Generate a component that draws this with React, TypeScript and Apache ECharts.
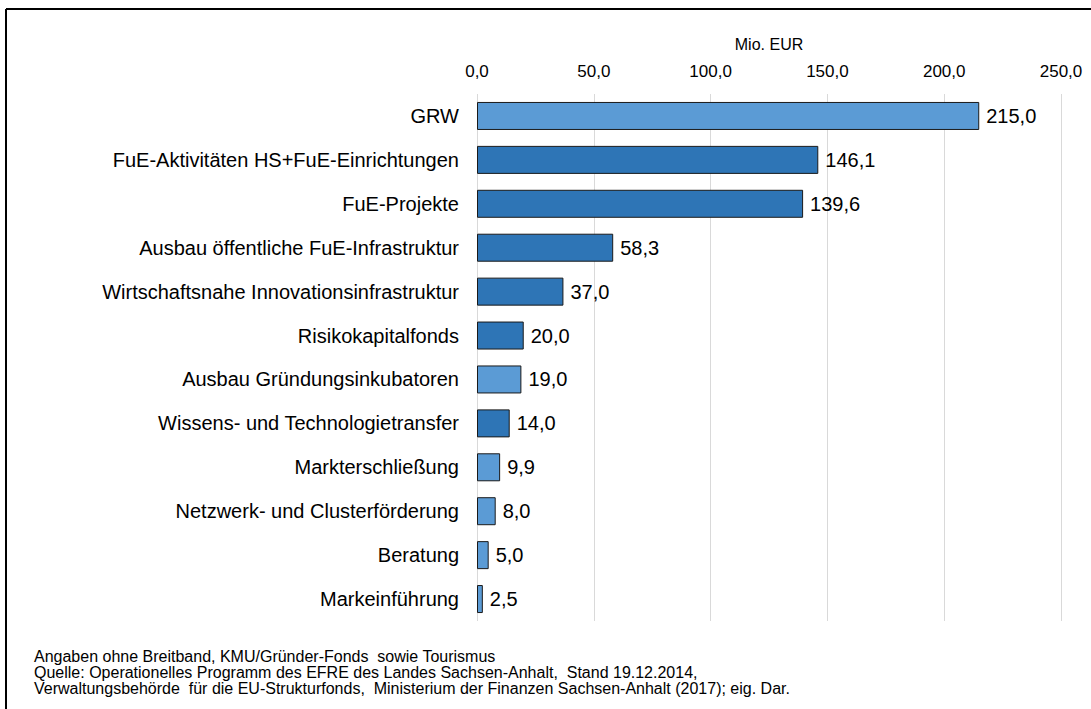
import React, { useEffect, useRef } from "react";
import * as echarts from "echarts";

const categories = [
  "GRW",
  "FuE-Aktivitäten HS+FuE-Einrichtungen",
  "FuE-Projekte",
  "Ausbau öffentliche FuE-Infrastruktur",
  "Wirtschaftsnahe Innovationsinfrastruktur",
  "Risikokapitalfonds",
  "Ausbau Gründungsinkubatoren",
  "Wissens- und Technologietransfer",
  "Markterschließung",
  "Netzwerk- und Clusterförderung",
  "Beratung",
  "Markeinführung",
];
const values = [215.0, 146.1, 139.6, 58.3, 37.0, 20.0, 19.0, 14.0, 9.9, 8.0, 5.0, 2.5];
// 0 = light blue, 1 = dark blue
const colorGroup = [0, 1, 1, 1, 1, 1, 0, 1, 0, 0, 0, 0];
const palette = ["#5B9BD5", "#2E75B6"];
const footnotes = [
  "Angaben ohne Breitband, KMU/Gründer-Fonds  sowie Tourismus",
  "Quelle: Operationelles Programm des EFRE des Landes Sachsen-Anhalt,  Stand 19.12.2014,",
  "Verwaltungsbehörde  für die EU-Strukturfonds,  Ministerium der Finanzen Sachsen-Anhalt (2017); eig. Dar.",
];

const fmt = (v: number) => v.toFixed(1).replace(".", ",");
const FONT = "Liberation Sans, Arial, sans-serif";

export default function App() {
  const ref = useRef<HTMLDivElement>(null);
  useEffect(() => {
    if (!ref.current) return;
    const chart = echarts.init(ref.current, null, { renderer: "svg" });
    chart.setOption({
      animation: false,
      backgroundColor: "#ffffff",
      textStyle: { fontFamily: FONT },
      grid: { left: 477, right: 30, top: 94, bottom: 88, containLabel: false },
      xAxis: {
        type: "value",
        position: "top",
        min: 0,
        max: 250,
        interval: 50,
        name: "Mio. EUR",
        nameLocation: "middle",
        nameGap: 42,
        nameTextStyle: { color: "#000", fontSize: 16, fontFamily: FONT },
        axisLine: { show: false },
        axisTick: { show: false },
        axisLabel: {
          color: "#000",
          fontSize: 17,
          fontFamily: FONT,
          margin: 14,
          formatter: (v: number) => fmt(v),
        },
        splitLine: { show: true, lineStyle: { color: "#d9d9d9", width: 1 } },
      },
      yAxis: {
        type: "category",
        inverse: true,
        data: categories,
        axisLine: { show: false },
        axisTick: { show: false },
        axisLabel: { color: "#000", fontSize: 20, fontFamily: FONT, margin: 18 },
      },
      series: [
        {
          type: "bar",
          barWidth: 28,
          data: values.map((v, i) => ({
            value: v,
            itemStyle: { color: palette[colorGroup[i]] },
          })),
          itemStyle: { borderColor: "#1a1a1a", borderWidth: 1 },
          label: {
            show: true,
            position: "right",
            distance: 7,
            color: "#000",
            fontSize: 20,
            fontFamily: FONT,
            formatter: (p: any) => fmt(p.value),
          },
        },
      ],
      graphic: [
        { type: "line", shape: { x1: 6, y1: 9, x2: 1091, y2: 9 }, style: { stroke: "#000", lineWidth: 2 } },
        { type: "line", shape: { x1: 6, y1: 9, x2: 6, y2: 709 }, style: { stroke: "#000", lineWidth: 2 } },
        ...footnotes.map((t, i) => ({
          type: "text",
          left: 34,
          top: 648 + i * 16,
          style: { text: t, fill: "#000", fontSize: 16, fontFamily: FONT },
        })),
      ],
    });
    return () => chart.dispose();
  }, []);
  return (
    <div
      ref={ref}
      style={{ position: "fixed", left: 0, top: 0, width: 1091, height: 709, background: "#fff" }}
    />
  );
}
